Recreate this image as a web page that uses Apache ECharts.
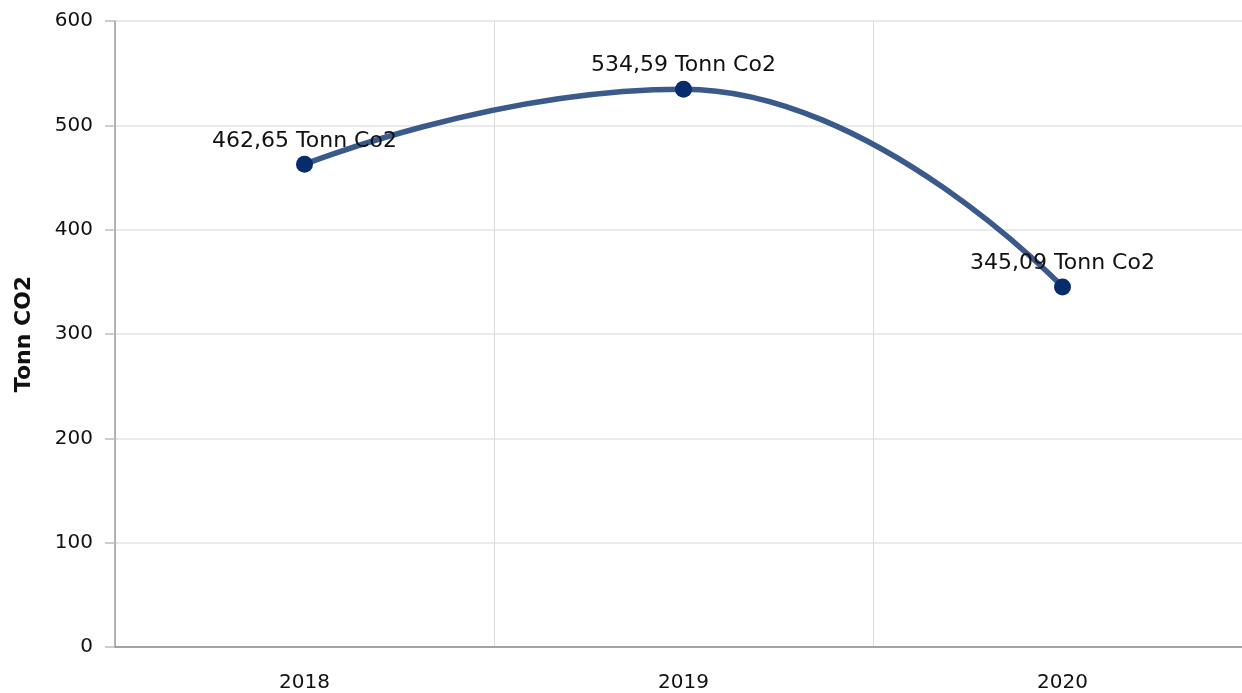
<!DOCTYPE html>
<html>
<head>
<meta charset="utf-8">
<script src="https://cdn.jsdelivr.net/npm/echarts@6/dist/echarts.min.js"></script>
<style>
  html, body { margin: 0; padding: 0; background: #fff; }
  #main { width: 1242px; height: 693px; }
</style>
</head>
<body>
<div id="main"></div>
<script>
// data
var years = ['2018', '2019', '2020'];
var co2 = [462.65, 534.59, 345.09];
var yTicks = [0, 100, 200, 300, 400, 500, 600];

var font = 'Verdana, "DejaVu Sans", sans-serif';

var myChart = echarts.init(document.getElementById('main'));

var option = {
  animation: false,
  textStyle: { fontFamily: font },
  grid: { left: 115, width: 1137, top: 21, bottom: 46, outerBoundsMode: 'none', containLabel: false },
  xAxis: {
    type: 'category',
    data: years,
    boundaryGap: true,
    axisLine: { lineStyle: { color: '#8c8c8c', width: 1.5 } },
    axisTick: { alignWithLabel: true, length: 8, lineStyle: { color: '#bdbdbd', width: 1.5 } },
    axisLabel: { color: '#111', fontSize: 20, margin: 26, fontFamily: font },
    splitLine: { show: true, lineStyle: { color: '#dcdcdc', width: 1 } }
  },
  yAxis: {
    type: 'value',
    min: yTicks[0],
    max: yTicks[yTicks.length - 1],
    interval: 100,
    name: 'Tonn CO2',
    nameLocation: 'middle',
    nameGap: 80,
    nameTextStyle: { fontSize: 22, fontWeight: 'bold', color: '#111', fontFamily: font },
    axisLine: { show: true, lineStyle: { color: '#9e9e9e', width: 1.5 } },
    axisTick: { show: true, length: 10, lineStyle: { color: '#bdbdbd', width: 1.5 } },
    axisLabel: { color: '#111', fontSize: 20, margin: 22, fontFamily: font },
    splitLine: { show: true, lineStyle: { color: '#e3e3e3', width: 1.5 } }
  },
  series: [{
    type: 'line',
    data: co2,
    smooth: 0.5,
    smoothMonotone: 'x',
    symbol: 'circle',
    symbolSize: 17,
    itemStyle: { color: '#062c6c' },
    lineStyle: { color: '#3a5a8c', width: 5.5 },
    label: {
      show: true,
      position: 'top',
      distance: 4,
      fontSize: 22,
      color: '#111',
      fontFamily: font,
      formatter: function (p) {
        return p.value.toFixed(2).replace('.', ',') + ' Tonn Co2';
      }
    }
  }]
};

myChart.setOption(option);
</script>
</body>
</html>
